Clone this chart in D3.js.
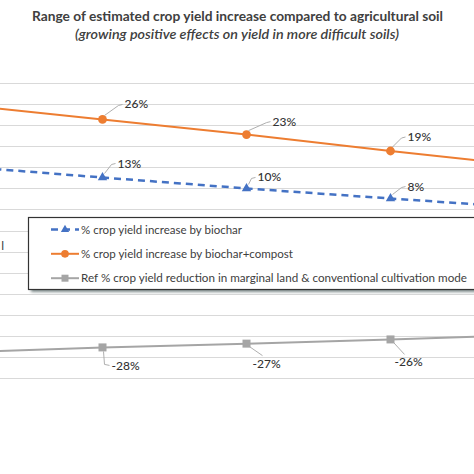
<!DOCTYPE html>
<html><head><meta charset="utf-8">
<script src="https://cdn.jsdelivr.net/npm/d3@7"></script>
<style>
html,body{margin:0;padding:0;background:#fff;}
svg{display:block;}
text{font-family:Lato,"Liberation Sans",sans-serif;}
</style></head>
<body>
<svg id="c" width="474" height="474"></svg>
<script>
// ---- data (outer categories are cropped off the image) ----
const categories = ["Cat 1","Cat 2","Cat 3","Cat 4","Cat 5"];
const biochar = [15.3, 12.6, 10.0, 7.6, 5.3];
const biocharCompost = [30.0, 26.4, 22.8, 18.9, 15.2];
const refReduction = [-29.0, -27.8, -26.9, -25.9, -24.8];
const yTicks = [-35,-30,-25,-20,-15,-10,-5,0,5,10,15,20,25,30,35];
const labelledIdx = [1,2,3];
const title = "Range of estimated crop yield increase compared to agricultural soil";
const subtitle = "(growing positive effects on yield in more difficult soils)";
const legendLabels = ["% crop yield increase by biochar","% crop yield increase by biochar+compost","Ref % crop yield reduction in marginal land & conventional cultivation mode"];

const svg = d3.select("#c");
const x = d3.scalePoint().domain(categories).range([-41.5, 534.5]);
const y = d3.scaleLinear().domain([-35,35]).range([377.7,83.3]);
const pct = v => Math.round(v) + "%";

// gridlines via axis
const grid = d3.axisLeft(y).tickValues(yTicks).tickSize(-480).tickFormat("");
svg.append("g").call(grid)
  .call(g=>g.select(".domain").remove())
  .call(g=>g.selectAll("line").attr("stroke","#d9d9d9").attr("stroke-width",1).attr("shape-rendering","crispEdges"));

// title
svg.append("text").attr("x",32).attr("y",21).attr("textLength",411).attr("lengthAdjust","spacingAndGlyphs")
  .attr("font-size",13.5).attr("font-weight","bold").attr("fill","#404040").text(title);
svg.append("text").attr("x",75).attr("y",38.5).attr("textLength",324).attr("lengthAdjust","spacingAndGlyphs")
  .attr("font-size",13).attr("font-style","italic").attr("font-weight","600").attr("fill","#404040").text(subtitle);

// cropped y-axis label remnant
svg.append("text").attr("x",4).attr("y",250).attr("text-anchor","end").attr("font-size",12).attr("fill","#404040").text("l");

const series = [
  {vals: refReduction, color:"#a5a5a5", dash:null, width:2, marker:"square", off:[[0,0],[9,19],[6,20],[4,23],[0,0]]},
  {vals: biochar, color:"#4472c4", dash:"7,5", width:2.5, marker:"triangle", off:[[0,0],[15,-14],[11,-11],[17,-12],[0,0]]},
  {vals: biocharCompost, color:"#ed7d31", dash:null, width:2, marker:"circle", off:[[0,0],[22,-15],[26,-13],[17,-14],[0,0]]},
];
const line = d3.line().x((d,i)=>x(categories[i])).y(d=>y(d));

function drawMarker(g, type, cx, cy, color, s){
  if(type==="circle") g.append("circle").attr("cx",cx).attr("cy",cy).attr("r",s*0.55).attr("fill",color);
  else if(type==="square") g.append("rect").attr("x",cx-s/2).attr("y",cy-s/2).attr("width",s).attr("height",s).attr("fill",color);
  else g.append("path").attr("d",d3.symbol(d3.symbolTriangle, s*s*0.6)()).attr("transform",`translate(${cx},${cy})`).attr("fill",color);
}

series.forEach(s=>{
  const g = svg.append("g");
  g.append("path").datum(s.vals).attr("d",line).attr("fill","none")
    .attr("stroke",s.color).attr("stroke-width",s.width).attr("stroke-dasharray",s.dash);
  s.vals.forEach((v,i)=>{
    const cx = x(categories[i]), cy = y(v);
    drawMarker(g, s.marker, cx, cy, s.color, 8);
    if(labelledIdx.includes(i)){
      const [dx,dy] = s.off[i];
      let pts;
      if(dy<0) pts = [[cx+2,cy-4],[cx+dx-6,cy+dy+1],[cx+dx-2,cy+dy]];
      else if(i===1) pts = [[cx+1,cy+4],[cx+2,cy+dy-2],[cx+dx-2,cy+dy-1]];
      else pts = [[cx+3,cy+3],[cx+dx+10,cy+dy-8]];
      g.append("path").attr("d",d3.line()(pts)).attr("fill","none").attr("stroke","#a6a6a6").attr("stroke-width",0.9);
      g.append("text").attr("x",cx+dx).attr("y",cy+dy+4).attr("font-size",12).attr("font-weight",500).attr("fill","#333").text(pct(v));
    }
  });
});

// legend
const defs = svg.append("defs");
const f = defs.append("filter").attr("id","sh").attr("x","-5%").attr("y","-20%").attr("width","120%").attr("height","160%");
f.append("feGaussianBlur").attr("stdDeviation",1.5);
const lg = svg.append("g");
lg.append("rect").attr("x",31).attr("y",221).attr("width",460).attr("height",71).attr("fill","#7f8c8c").attr("filter","url(#sh)");
lg.append("rect").attr("x",28.5).attr("y",217.5).attr("width",460).attr("height",72).attr("fill","#fff").attr("stroke","#333").attr("stroke-width",1.2);
const legYs = [229.5, 253.8, 278.2];
const legLens = [161, 212, 386];
const legSeries = [series[1], series[2], series[0]];
legSeries.forEach((s,i)=>{
  const yy = legYs[i];
  lg.append("line").attr("x1",51).attr("x2",79).attr("y1",yy).attr("y2",yy).attr("stroke",s.color)
    .attr("stroke-width",s.width).attr("stroke-dasharray",s.dash);
  drawMarker(lg, s.marker, 65, yy, s.color, 7);
  lg.append("text").attr("x",81).attr("y",yy+4).attr("font-size",11.5).attr("fill","#404040")
    .attr("textLength",legLens[i]).attr("lengthAdjust","spacingAndGlyphs").text(legendLabels[i]);
});
</script>
</body></html>
